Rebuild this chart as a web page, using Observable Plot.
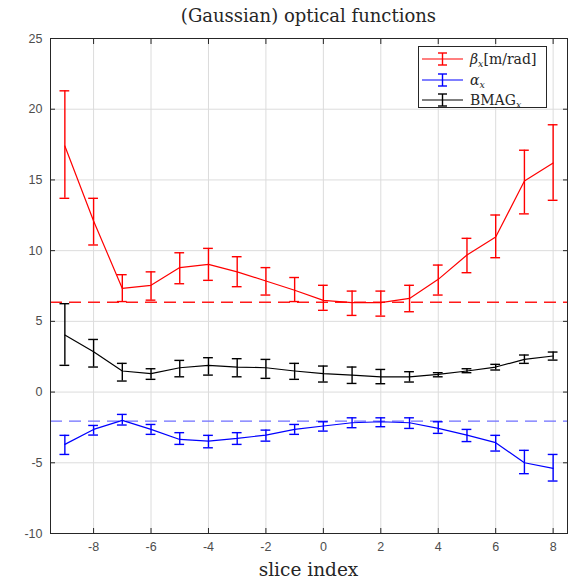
<!DOCTYPE html>
<html><head><meta charset="utf-8">
<script src="https://cdn.jsdelivr.net/npm/d3@7"></script>
<script src="https://cdn.jsdelivr.net/npm/@observablehq/plot@0.6"></script>
<style>
body{margin:0;background:#fff;}
#wrap{position:relative;width:577px;height:583px;overflow:hidden;}
#title{position:absolute;left:50px;width:517px;top:4px;text-align:center;font-family:"DejaVu Serif";font-size:18px;color:#262626;line-height:24px;}
#xlabel{position:absolute;left:50px;width:517px;top:558px;text-align:center;font-family:"DejaVu Serif";font-size:18.5px;color:#262626;line-height:24px;}
#legend{position:absolute;left:418px;top:46px;width:129px;height:62px;border:1px solid #262626;background:#fff;box-sizing:border-box;font-family:"DejaVu Serif";font-size:14px;color:#262626;}
.row{position:absolute;left:1px;height:20px;display:flex;align-items:center;white-space:nowrap;}
.row svg{display:block;margin-right:6px;}
.row sub{font-size:9.5px;font-style:italic;vertical-align:-3px;line-height:0;}
</style>
</head><body>
<div id="wrap">
  <div id="title">(Gaussian) optical functions</div>
  <div id="plot"></div>
  <div id="legend"></div>
  <div id="xlabel">slice index</div>
</div>
<script>
// ---- data ----
const sliceIndex = [-9,-8,-7,-6,-5,-4,-3,-2,-1,0,1,2,3,4,5,6,7,8];

const betaX   = [17.4, 12.1, 7.33, 7.55, 8.8, 9.03, 8.5, 7.85, 7.2, 6.48, 6.32, 6.32, 6.62, 7.97, 9.69, 10.96, 14.92, 16.2];
const betaLo  = [13.7, 10.4, 6.4, 6.5, 7.66, 7.9, 7.45, 6.86, 6.4, 5.78, 5.42, 5.37, 5.68, 6.86, 8.44, 9.5, 12.6, 13.56];
const betaHi  = [21.3, 13.7, 8.3, 8.5, 9.85, 10.16, 9.57, 8.8, 8.1, 7.55, 7.14, 7.14, 7.55, 8.98, 10.87, 12.52, 17.1, 18.9];

const alphaX  = [-3.7, -2.64, -2.0, -2.64, -3.35, -3.47, -3.28, -3.04, -2.64, -2.4, -2.17, -2.1, -2.17, -2.57, -3.04, -3.58, -5.0, -5.4];
const alphaLo = [-4.41, -3.04, -2.33, -2.99, -3.7, -3.94, -3.7, -3.47, -2.99, -2.76, -2.52, -2.45, -2.57, -2.92, -3.5, -4.17, -5.77, -6.29];
const alphaHi = [-3.06, -2.36, -1.58, -2.29, -2.87, -3.06, -2.87, -2.69, -2.29, -2.1, -1.82, -1.82, -1.82, -2.1, -2.64, -3.06, -4.12, -4.41];

const bmagX   = [4.03, 2.85, 1.49, 1.3, 1.72, 1.89, 1.77, 1.72, 1.49, 1.3, 1.2, 1.08, 1.08, 1.25, 1.49, 1.77, 2.31, 2.55];
const bmagLo  = [1.89, 1.77, 0.78, 0.9, 1.08, 1.2, 1.08, 0.97, 0.9, 0.71, 0.61, 0.59, 0.71, 1.08, 1.37, 1.56, 2.03, 2.26];
const bmagHi  = [6.25, 3.72, 2.03, 1.65, 2.24, 2.43, 2.36, 2.31, 2.03, 1.84, 1.77, 1.6, 1.44, 1.37, 1.65, 1.96, 2.62, 2.83];

const betaRef  = 6.35;
const alphaRef = -2.05;

const xTicks = [-8,-6,-4,-2,0,2,4,6,8];
const yTicks = [-10,-5,0,5,10,15,20,25];

const seriesNames  = ["beta", "alpha", "bmag"];
const seriesColors = ["#ff0000", "#0000ff", "#000000"];
const refColors    = ["#ff1a1a", "#6f6fff"];

// ---- build rows ----
const seriesData = [
  [betaX, betaLo, betaHi],
  [alphaX, alphaLo, alphaHi],
  [bmagX, bmagLo, bmagHi]
].map(([v, lo, hi], s) => sliceIndex.map((x, i) => ({series: seriesNames[s], x, y: v[i], lo: lo[i], hi: hi[i]})));

const capHalf = 0.17;
const fmt = d => String(d);
const marks = [
  Plot.gridX(xTicks, {stroke: "#dcdcdc", strokeOpacity: 1}),
  Plot.gridY(yTicks, {stroke: "#dcdcdc", strokeOpacity: 1}),
  Plot.ruleY([betaRef], {stroke: refColors[0], strokeWidth: 1.4, strokeDasharray: "12,7"}),
  Plot.ruleY([alphaRef], {stroke: refColors[1], strokeWidth: 1.3, strokeDasharray: "12,7"})
];
seriesData.forEach((rows, s) => {
  const c = seriesColors[s];
  marks.push(
    Plot.line(rows, {x: "x", y: "y", stroke: c, strokeWidth: 1.2}),
    Plot.ruleX(rows, {x: "x", y1: "lo", y2: "hi", stroke: c, strokeWidth: 1.4}),
    Plot.ruleY(rows, {y: "lo", x1: d => d.x - capHalf, x2: d => d.x + capHalf, stroke: c, strokeWidth: 1.4}),
    Plot.ruleY(rows, {y: "hi", x1: d => d.x - capHalf, x2: d => d.x + capHalf, stroke: c, strokeWidth: 1.4})
  );
});
marks.push(
  Plot.frame({stroke: "#262626", strokeWidth: 1}),
  Plot.axisX({ticks: xTicks, tickSize: 0, tickPadding: 9, tickFormat: fmt, label: null, fill: "#4d4d4d"}),
  Plot.axisY({ticks: yTicks, tickSize: 0, tickPadding: 8, tickFormat: fmt, label: null, fill: "#4d4d4d"}),
  Plot.axisX({anchor: "bottom", ticks: xTicks, tickSize: -5, tickFormat: () => "", label: null, stroke: "#262626"}),
  Plot.axisX({anchor: "top", ticks: xTicks, tickSize: -5, tickFormat: () => "", label: null, stroke: "#262626"}),
  Plot.axisY({anchor: "left", ticks: yTicks, tickSize: -5, tickFormat: () => "", label: null, stroke: "#262626"}),
  Plot.axisY({anchor: "right", ticks: yTicks, tickSize: -5, tickFormat: () => "", label: null, stroke: "#262626"})
);

const chart = Plot.plot({
  width: 577,
  height: 583,
  marginLeft: 50,
  marginRight: 10,
  marginTop: 38,
  marginBottom: 50,
  style: {fontFamily: "Liberation Sans", fontSize: "12.5px", background: "#fff"},
  x: {domain: [-9.5, 8.5]},
  y: {domain: [-10, 25]},
  marks
});
document.getElementById("plot").appendChild(chart);

// ---- legend ----
const legendLabels = [
  '<i>β</i><sub>x</sub>[m/rad]',
  '<i>α</i><sub>x</sub>',
  'BMAG<sub>x</sub>'
];
const legend = document.getElementById("legend");
const rowTops = [2, 22.5, 43];
legendLabels.forEach((lab, i) => {
  const c = seriesColors[i];
  const row = document.createElement("div");
  row.className = "row";
  row.style.top = rowTops[i] + "px";
  row.innerHTML = `<svg width="44" height="20"><line x1="2" x2="43" y1="10" y2="10" stroke="${c}" stroke-width="1.2"/><line x1="22.5" x2="22.5" y1="4" y2="16" stroke="${c}" stroke-width="1.4"/><line x1="18" x2="27" y1="4" y2="4" stroke="${c}" stroke-width="1.4"/><line x1="18" x2="27" y1="16" y2="16" stroke="${c}" stroke-width="1.4"/></svg><span>${lab}</span>`;
  legend.appendChild(row);
});
</script>
</body></html>
